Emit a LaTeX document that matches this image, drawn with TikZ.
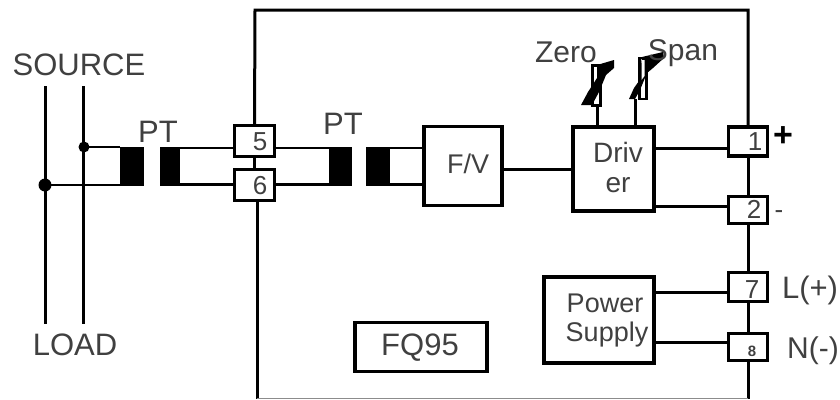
\documentclass[tikz,border=0pt]{standalone}
\usepackage{fontspec}
\setmainfont{Liberation Sans}
\tikzset{
 wire/.style={line width=3pt,black},
 boxnode/.style={draw=black,line width=3.2pt,fill=white,inner sep=0pt,outer sep=0pt,rectangle},
 core/.style={fill=black,draw=none,inner sep=0pt,outer sep=0pt,rectangle,minimum height=39pt},
 dotnode/.style={circle,fill=black,draw=none,inner sep=0pt,minimum size=#1},
 lab/.style={font=\fontsize{#1}{#1}\selectfont,inner sep=0pt,anchor=base,text=black!75},
}
\begin{document}
\begin{tikzpicture}[x=1pt,y=-1pt]
\useasboundingbox (0,0) rectangle (840,399);
\fill[white] (0,0) rectangle (840,399);
% frame corners and free ends
\coordinate (ftl) at (255,10);
\coordinate (ftr) at (748,10);
\coordinate (fbl) at (257,399);
\coordinate (fbr) at (748,399);
\coordinate (gl) at (257,398);
\coordinate (s1t) at (45,86);
\coordinate (s1b) at (45,324);
\coordinate (s2t) at (83,86);
\coordinate (s2b) at (83,324);
% wire levels
\coordinate (yA) at (0,148);
\coordinate (yB) at (0,184.5);
\coordinate (yC) at (0,148);
\coordinate (yD) at (0,206);
\coordinate (yE) at (0,292);
\coordinate (yF) at (0,342);
% dots
\node[dotnode=13pt] (d1) at (45,185) {};
\node[dotnode=11pt] (d2) at (84,147) {};
% cores
\node[core,minimum width=24pt] (c1) at (131.5,166.5) {};
\node[core,minimum width=20pt] (c2) at (169.5,166.5) {};
\node[core,minimum width=23pt] (c3) at (340,166.5) {};
\node[core,minimum width=24pt] (c4) at (378,166.5) {};
% terminals
\node[boxnode,minimum width=40pt,minimum height=31pt] (t5) at (254.5,141) {};
\node[boxnode,minimum width=40pt,minimum height=31pt] (t6) at (254.5,185) {};
\node[boxnode,minimum width=39pt,minimum height=29pt] (t1) at (748,141.5) {};
\node[boxnode,minimum width=39pt,minimum height=27pt] (t2) at (748,210) {};
\node[boxnode,minimum width=39pt,minimum height=29pt] (t7) at (748,287) {};
\node[boxnode,minimum width=39pt,minimum height=27pt] (t8) at (748,347) {};
% blocks
\node[boxnode,minimum width=78pt,minimum height=79pt] (fv) at (463,166) {};
\node[boxnode,minimum width=81pt,minimum height=84pt] (drv) at (613.5,169) {};
\node[boxnode,minimum width=110pt,minimum height=86pt] (ps) at (599,320) {};
\node[boxnode,minimum width=132pt,minimum height=49pt] (fq) at (421,347) {};
% wires
\draw[wire] (s1t) -- (s1b);
\draw[wire] (s2t) -- (s2b);
\draw[wire,line width=2.6pt] (d2.center) -- (c1.west |- d2.center);
\draw[wire,line width=2.6pt] (d1.center) -- (c1.west |- d1.center);
\draw[wire,line width=2.6pt] (c2.east |- yA) -- (t5.west |- yA);
\draw[wire,line width=2.6pt] (c2.east |- yB) -- (t6.west |- yB);
\draw[wire,line width=2.6pt] (t5.east |- yA) -- (c3.west |- yA);
\draw[wire,line width=2.6pt] (t6.east |- yB) -- (c3.west |- yB);
\draw[wire,line width=2.6pt] (c4.east |- yA) -- (fv.west |- yA);
\draw[wire,line width=2.6pt] (c4.east |- yB) -- (fv.west |- yB);
\draw[wire] (fv.east |- drv.west) -- (drv.west);
\draw[wire] (drv.east |- yC) -- (t1.west |- yC);
\draw[wire] (drv.east |- yD) -- (t2.west |- yD);
\draw[wire] (ps.east |- yE) -- (t7.west |- yE);
\draw[wire] (ps.east |- yF) -- (t8.west |- yF);
% frame
\draw[wire] (t5.north) -- (ftl) -- (ftr) -- (t1.north);
\draw[wire] (t5.south) -- (t6.north);
\draw[wire] (t6.south -| fbl) -- (fbl);
\draw[wire] (t1.south) -- (t2.north);
\draw[wire] (t2.south) -- (t7.north);
\draw[wire] (t7.south) -- (t8.north);
\draw[wire] (t8.south) -- (fbr);
\draw[black!45,line width=1pt] (gl) -- (fbr |- gl);
% trimmers
\coordinate (z0) at (597,105);
\coordinate (s0) at (635,99);
\draw[wire] (drv.north -| z0) -- (z0);
\draw[wire] (drv.north -| s0) -- (s0);
\draw[black,line width=3pt] (592.5,65) rectangle (600,105);
\draw[black,line width=2.8pt] (639.5,58) rectangle (646.5,99);
\fill[black] (581,105) -- (588,92) -- (597,78) -- (597,65) -- (614,60) -- (614,68) -- (606,75) -- (599,92) -- (592,105) -- cycle;
\fill[black] (629,99) -- (634,88) -- (639,81) -- (642,57) -- (663,52) -- (664,58) -- (653,68) -- (647,73) -- (640,90) -- (635,99) -- cycle;
\fill[white] (641.5,60) -- (644.5,60) -- (644.5,76) -- (641.5,80) -- cycle;
% labels
\node[lab=31] (tsrc) at (79,75) {SOURCE};
\node[lab=31] (tload) at (75,355) {LOAD};
\node[lab=31] (tpt1) at (158,142) {PT};
\node[lab=31] (tpt2) at (343,134) {PT};
\node[lab=26] (t5l) at (260,150) {5};
\node[lab=26] (t6l) at (260,194) {6};
\node[lab=26] (t1l) at (755,150) {1};
\node[lab=26] (t2l) at (754,218) {2};
\node[lab=26] (t7l) at (752,298) {7};
\node[lab=15,font=\fontsize{15}{15}\selectfont\bfseries] (t8l) at (752,356) {8};
\node[lab=27] (tfv) at (468,173) {F/V};
\node[lab=28] (tdr1) at (618,162) {Driv};
\node[lab=28] (tdr2) at (618,192) {er};
\node[lab=27] (tps1) at (605,312) {Power};
\node[lab=27] (tps2) at (607,341) {Supply};
\node[lab=31] (tfq) at (420,355) {FQ95};
\node[lab=30] (tzero) at (566,62) {Zero};
\node[lab=30] (tspan) at (683,60) {Span};
\node[lab=34,font=\fontsize{34}{34}\selectfont\bfseries,text=black] (tplus) at (783,146) {+};
\node[lab=26] (tminus) at (779,218) {-};
\node[lab=31] (tl) at (810,298) {L(+)};
\node[lab=30] (tn) at (813,358) {N(-)};
\end{tikzpicture}
\end{document}
